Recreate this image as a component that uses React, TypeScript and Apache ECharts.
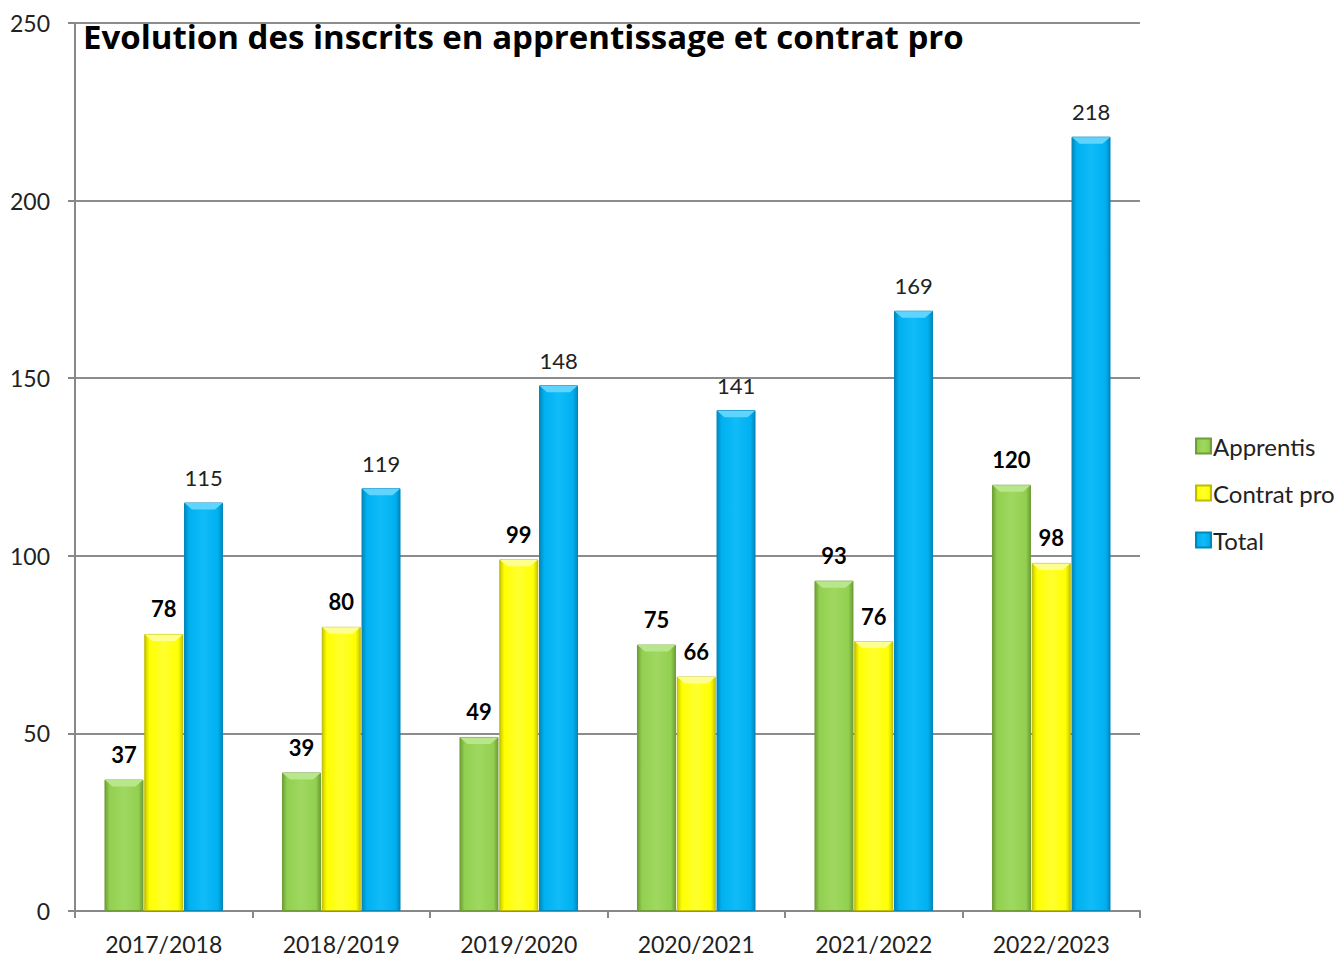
import React, { useEffect, useRef } from "react";
import * as echarts from "echarts";

const categories = ["2017/2018", "2018/2019", "2019/2020", "2020/2021", "2021/2022", "2022/2023"];
const apprentis = [37, 39, 49, 75, 93, 120];
const contratPro = [78, 80, 99, 66, 76, 98];
const total = [115, 119, 148, 141, 169, 218];
const yTicks = { min: 0, max: 250, interval: 50 };

function grad(edge: string, mid: string, light: string) {
  return new echarts.graphic.LinearGradient(0, 0, 1, 0, [
    { offset: 0, color: edge },
    { offset: 0.12, color: mid },
    { offset: 0.5, color: light },
    { offset: 0.88, color: mid },
    { offset: 1, color: edge },
  ]);
}

const BAR_W = 39;
const STEP = 39.78;

function bevel(name: string, values: number[], k: number, color: string) {
  return {
    name: name + "-bevel",
    type: "custom",
    silent: true,
    z: 5,
    data: values.map((v, i) => [i, v]),
    renderItem: (_params: any, api: any) => {
      const p = api.coord([api.value(0), api.value(1)]);
      const cx = p[0] + (k - 1) * STEP;
      const y = p[1];
      const h = 7;
      const half = BAR_W / 2;
      return {
        type: "polygon",
        shape: {
          points: [
            [cx - half + 0.5, y + 0.5],
            [cx + half - 0.5, y + 0.5],
            [cx + half - 8, y + h],
            [cx - half + 8, y + h],
          ],
        },
        style: { fill: color },
      };
    },
  };
}

export default function App() {
  const ref = useRef<HTMLDivElement>(null);
  useEffect(() => {
    const chart = echarts.init(ref.current!, null, { renderer: "svg" });
    const font = "Lato, 'Open Sans', sans-serif";
    const boldLabel = {
      show: true,
      position: "top" as const,
      distance: 14,
      fontFamily: font,
      fontSize: 22,
      fontWeight: "bold" as const,
      color: "#000",
    };
    chart.setOption({
      animation: false,
      backgroundColor: "#fff",
      title: {
        text: "Evolution des inscrits en apprentissage et contrat pro",
        left: 78,
        top: 15,
        textStyle: { fontFamily: "'Open Sans', sans-serif", fontSize: 33, fontWeight: "bold", color: "#000" },
      },
      legend: {
        orient: "vertical",
        left: 1190,
        top: 429,
        itemWidth: 15,
        itemHeight: 15,
        itemGap: 23,
        icon: "rect",
        textStyle: { fontFamily: font, fontSize: 24, color: "#222", padding: [0, 0, 0, -3] },
        data: ["Apprentis", "Contrat pro", "Total"],
      },
      grid: { left: 75, right: 202, top: 23, bottom: 48, containLabel: false },
      xAxis: {
        type: "category",
        data: categories,
        axisLine: { lineStyle: { color: "#888", width: 2 } },
        axisTick: { show: true, length: 7, lineStyle: { color: "#888", width: 2 } },
        axisLabel: { fontFamily: font, fontSize: 23, color: "#222", margin: 21 },
      },
      yAxis: {
        type: "value",
        min: yTicks.min,
        max: yTicks.max,
        interval: yTicks.interval,
        axisLine: { show: true, lineStyle: { color: "#888", width: 2 } },
        axisTick: { show: true, length: 7, lineStyle: { color: "#888", width: 2 } },
        axisLabel: { fontFamily: font, fontSize: 23, color: "#222", margin: 25 },
        splitLine: { lineStyle: { color: "#8c8c8c", width: 2 } },
      },
      series: [
        {
          name: "Apprentis",
          type: "bar",
          data: apprentis,
          barWidth: BAR_W,
          barGap: "2%",
          itemStyle: { color: grad("#6f9e38", "#92d050", "#9fd860"), borderColor: "#6f9e38", borderWidth: 1 },
          label: boldLabel,
        },
        {
          name: "Contrat pro",
          type: "bar",
          data: contratPro,
          barWidth: BAR_W,
          barGap: "2%",
          itemStyle: { color: grad("#c8c800", "#ffff00", "#ffff30"), borderColor: "#bdbd00", borderWidth: 1 },
          label: boldLabel,
        },
        {
          name: "Total",
          type: "bar",
          data: total,
          barWidth: BAR_W,
          barGap: "2%",
          itemStyle: { color: grad("#0088bb", "#00b0f0", "#10bcf8"), borderColor: "#0088bb", borderWidth: 1 },
          label: { ...boldLabel, fontWeight: "normal" as const, color: "#222" },
        },
        bevel("Apprentis", apprentis, 0, "#b8e68a"),
        bevel("Contrat pro", contratPro, 1, "#ffff90"),
        bevel("Total", total, 2, "#5fd4ff"),
      ],
    });
    return () => chart.dispose();
  }, []);
  return <div ref={ref} style={{ position: "fixed", left: 0, top: 0, width: 1342, height: 959 }} />;
}
